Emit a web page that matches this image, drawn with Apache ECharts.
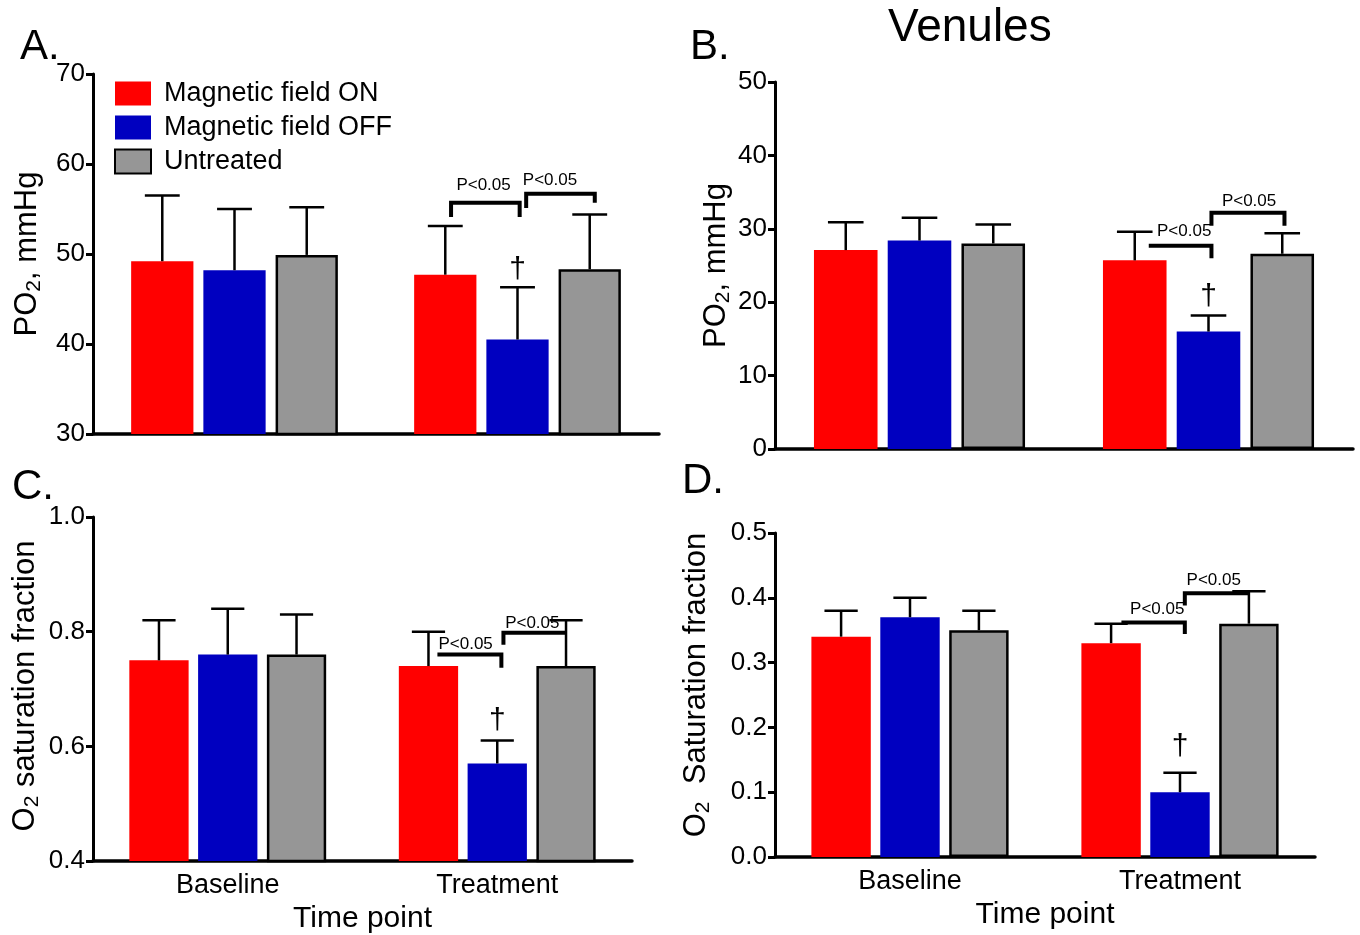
<!DOCTYPE html>
<html>
<head>
<meta charset="utf-8">
<title>Venules PO2 and O2 saturation</title>
<script src="https://cdn.jsdelivr.net/npm/echarts@6/dist/echarts.min.js"></script>
<style>
  html, body { margin: 0; padding: 0; background: #fff; }
  #main { width: 1360px; height: 935px; }
</style>
</head>
<body>
<div id="main"></div>
<script>
var categories = ['Baseline', 'Treatment'];
var seriesNames = ['Magnetic field ON', 'Magnetic field OFF', 'Untreated'];

// A. PO2, mmHg (mean and top of error bar)
var meanA = [[49.2, 47.7], [48.2, 40.5], [49.9, 48.3]];
var upperA = [[56.5, 53.1], [55.0, 46.3], [55.2, 54.4]];
// B. PO2, mmHg
var meanB = [[27.1, 25.7], [28.4, 16.0], [28.0, 26.6]];
var upperB = [[30.9, 29.6], [31.5, 18.2], [30.6, 29.4]];
// C. O2 saturation fraction
var meanC = [[0.75, 0.74], [0.76, 0.57], [0.76, 0.74]];
var upperC = [[0.82, 0.80], [0.84, 0.61], [0.83, 0.82]];
// D. O2 saturation fraction
var meanD = [[0.34, 0.33], [0.37, 0.10], [0.35, 0.36]];
var upperD = [[0.38, 0.36], [0.40, 0.13], [0.38, 0.41]];

// significance brackets: [category, from bar slot, to bar slot, line level, left leg end, right leg end]
var bracketsA = [[1, 0.08, 1.03, 55.7, 54.1, 54.1], [1, 1.12, 2.07, 56.7, 55.1, 55.7]];
var bracketsB = [[1, 0.19, 1.04, 27.7, null, 26.0], [1, 1.04, 2.03, 32.2, 30.4, 30.4]];
var bracketsC = [[1, 0.13, 1.06, 0.760, null, 0.737], [1, 1.09, 2.01, 0.798, 0.777, null]];
var bracketsD = [[1, 0.15, 1.07, 0.362, null, 0.344], [1, 1.07, 2.00, 0.407, 0.388, null]];
// "P<0.05" labels: [category, bar slot, level]
var pLabelsA = [[1, 0.53, 57.6], [1, 1.45, 58.2]];
var pLabelsB = [[1, 0.67, 29.7], [1, 1.55, 33.8]];
var pLabelsC = [[1, 0.54, 0.778], [1, 1.51, 0.815]];
var pLabelsD = [[1, 0.67, 0.383], [1, 1.49, 0.427]];
// dagger marks: [category, bar slot, level]
var daggerA = [[1, 1, 48.3]];
var daggerB = [[1, 1, 20.7]];
var daggerC = [[1, 1, 0.645]];
var daggerD = [[1, 1, 0.170]];

var colors = ['#ff0000', '#0000c0', '#969696'];
var FONT = '"Liberation Sans", Arial, sans-serif';
var BAR_FRAC = 0.22, GAP_FRAC = 0.16;

var panels = [
  {mean: meanA, upper: upperA, brackets: bracketsA, pLabels: pLabelsA, dagger: daggerA},
  {mean: meanB, upper: upperB, brackets: bracketsB, pLabels: pLabelsB, dagger: daggerB},
  {mean: meanC, upper: upperC, brackets: bracketsC, pLabels: pLabelsC, dagger: daggerC},
  {mean: meanD, upper: upperD, brackets: bracketsD, pLabels: pLabelsD, dagger: daggerD}
];

function slotX(api, cat, slot) {
  var c = api.coord([cat, 0]);
  var w = api.size([1, 0])[0] * BAR_FRAC;
  return c[0] + (slot - 1) * w * (1 + GAP_FRAC);
}

function errorItem(params, api) {
  var cat = api.value(0), slot = api.value(1);
  var lo = api.coord([cat, api.value(2)]);
  var hi = api.coord([cat, api.value(3)]);
  var w = api.size([1, 0])[0] * BAR_FRAC;
  var x = slotX(api, cat, slot);
  var half = w * 0.28;
  var st = {stroke: '#000', lineWidth: 2.5};
  return {type: 'group', children: [
    {type: 'line', shape: {x1: x, y1: lo[1], x2: x, y2: hi[1]}, style: st},
    {type: 'line', shape: {x1: x - half, y1: hi[1], x2: x + half, y2: hi[1]}, style: st}
  ]};
}

function bracketRenderer(list) {
  return function (params, api) {
    var b = list[params.dataIndex];
    var x1 = slotX(api, b[0], b[1]);
    var x2 = slotX(api, b[0], b[2]);
    var y = api.coord([b[0], b[3]])[1];
    var pts = [];
    if (b[4] != null) pts.push([x1, api.coord([b[0], b[4]])[1]]);
    pts.push([x1, y], [x2, y]);
    if (b[5] != null) pts.push([x2, api.coord([b[0], b[5]])[1]]);
    return {type: 'polyline', shape: {points: pts},
      style: {stroke: '#000', lineWidth: 4, fill: null, lineJoin: 'miter'}};
  };
}

function textRenderer(list, txt, size) {
  return function (params, api) {
    var t = list[params.dataIndex];
    var x = slotX(api, t[0], t[1]);
    var y = api.coord([t[0], t[2]])[1];
    return {type: 'text', style: {text: txt, x: x, y: y, fill: '#000',
      font: size + 'px ' + FONT, align: 'center', verticalAlign: 'middle'}};
  };
}

var grids = [
  {left: 93, top: 74, width: 566, height: 360},
  {left: 775, top: 82, width: 578, height: 367},
  {left: 93, top: 517, width: 539, height: 344},
  {left: 775, top: 533, width: 540, height: 324}
];

var axisLineStyle = {color: '#000', width: 3};

function makeX(i, showLabels) {
  return {
    type: 'category', gridIndex: i, data: categories,
    axisLine: {lineStyle: {color: '#000', width: 3.5}},
    axisTick: {alignWithLabel: true, length: 8, lineStyle: {color: '#000', width: 3}},
    axisLabel: {show: showLabels, color: '#000', fontSize: 27, fontFamily: FONT, margin: 11},
    name: showLabels ? 'Time point' : '',
    nameLocation: 'middle', nameGap: 43,
    nameTextStyle: {color: '#000', fontSize: 30, fontFamily: FONT}
  };
}

function makeY(i, min, max, interval, decimals, name, nameGap, shift) {
  return {
    type: 'value', gridIndex: i, min: min, max: max, interval: interval,
    splitLine: {show: false},
    axisLine: {show: true, lineStyle: axisLineStyle},
    axisTick: {show: true, length: 7, lineStyle: {color: '#000', width: 3}},
    axisLabel: {color: '#000', fontSize: 26, fontFamily: FONT, margin: 8,
      formatter: function (v) { return v.toFixed(decimals); }},
    name: name, nameLocation: 'middle', nameGap: nameGap,
    nameTextStyle: {color: '#000', fontFamily: FONT, padding: [0, 0, 0, shift || 0],
      rich: {
        a: {fontSize: 31, fontFamily: FONT, color: '#000', lineHeight: 36, verticalAlign: 'middle'},
        s: {fontSize: 21, fontFamily: FONT, color: '#000', lineHeight: 16, verticalAlign: 'bottom'}
      }}
  };
}

var series = [];
panels.forEach(function (p, i) {
  for (var k = 0; k < 3; k++) {
    series.push({
      type: 'bar', name: seriesNames[k], xAxisIndex: i, yAxisIndex: i,
      data: p.mean[k], barWidth: (BAR_FRAC * 100) + '%', barGap: (GAP_FRAC * 100) + '%',
      itemStyle: k === 2 ? {color: colors[k], borderColor: '#000', borderWidth: 2.5}
                         : {color: colors[k]},
      z: 2
    });
  }
  var errData = [];
  for (var k2 = 0; k2 < 3; k2++) {
    for (var c = 0; c < categories.length; c++) {
      errData.push([c, k2, p.mean[k2][c], p.upper[k2][c]]);
    }
  }
  series.push({type: 'custom', xAxisIndex: i, yAxisIndex: i, renderItem: errorItem,
    data: errData, encode: {x: 0, y: [2, 3]}, z: 3});
  series.push({type: 'custom', xAxisIndex: i, yAxisIndex: i, renderItem: bracketRenderer(p.brackets),
    data: p.brackets.map(function (b) { return [b[0], b[3]]; }), encode: {x: 0, y: 1}, z: 4});
  series.push({type: 'custom', xAxisIndex: i, yAxisIndex: i, renderItem: textRenderer(p.pLabels, 'P<0.05', 17),
    data: p.pLabels.map(function (t) { return [t[0], t[2]]; }), encode: {x: 0, y: 1}, z: 5});
  series.push({type: 'custom', xAxisIndex: i, yAxisIndex: i, renderItem: textRenderer(p.dagger, '\u2020', 30),
    data: p.dagger.map(function (t) { return [t[0], t[2]]; }), encode: {x: 0, y: 1}, z: 5});
});

var chart = echarts.init(document.getElementById('main'));
chart.setOption({
  animation: false,
  backgroundColor: '#fff',
  textStyle: {fontFamily: FONT},
  grid: grids,
  xAxis: [makeX(0, false), makeX(1, false), makeX(2, true), makeX(3, true)],
  yAxis: [
    makeY(0, 30, 70, 10, 0, '{a|PO}{s|2}{a|, mmHg}', 48),
    makeY(1, 0, 50, 10, 0, '{a|PO}{s|2}{a|, mmHg}', 37),
    makeY(2, 0.4, 1.0, 0.2, 1, '{a|O}{s|2}{a| saturation fraction}', 50, 6),
    makeY(3, 0, 0.5, 0.1, 1, '{a|O}{s|2}{a|  Saturation fraction}', 61, 20)
  ],
  legend: {
    data: seriesNames, orient: 'vertical', left: 109, top: 75,
    icon: 'rect', itemWidth: 36, itemHeight: 24, itemGap: 7,
    selectedMode: false,
    textStyle: {color: '#000', fontSize: 27, fontFamily: FONT, padding: [0, 0, 0, 8]}
  },
  graphic: [
    {type: 'text', left: 20, top: 26, style: {text: 'A.', font: '42px ' + FONT, fill: '#000'}},
    {type: 'text', left: 690, top: 26, style: {text: 'B.', font: '42px ' + FONT, fill: '#000'}},
    {type: 'text', left: 12, top: 466, style: {text: 'C.', font: '42px ' + FONT, fill: '#000'}},
    {type: 'text', left: 682, top: 460, style: {text: 'D.', font: '42px ' + FONT, fill: '#000'}},
    {type: 'text', left: 888, top: 5, style: {text: 'Venules', font: '46px ' + FONT, fill: '#000'}}
  ],
  series: series
});
</script>
</body>
</html>
